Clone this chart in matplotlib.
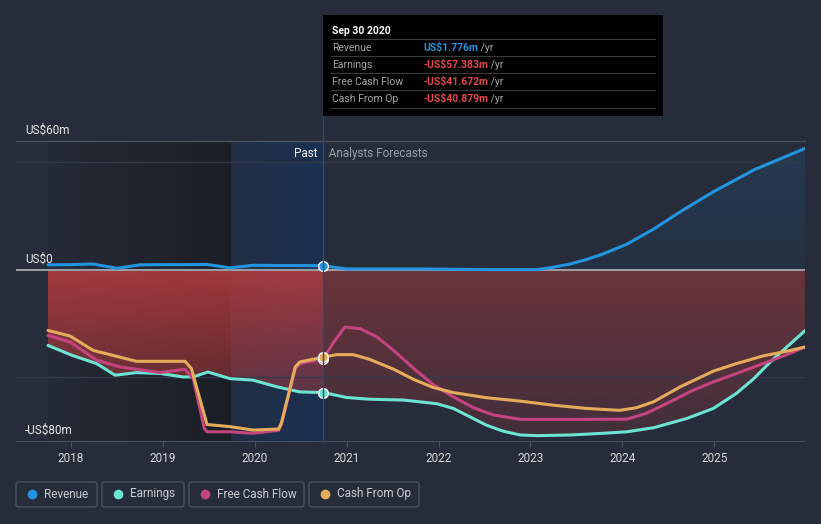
#!/usr/bin/env python3
""" revenue, earnings and cash flow history with analyst forecasts """
import numpy as np
import matplotlib.pyplot as plt
from matplotlib.patches import Rectangle, FancyBboxPatch, PathPatch
from matplotlib.lines import Line2D
from matplotlib.text import Annotation

plt.rcParams['font.family'] = ['Roboto', 'DejaVu Sans']

# values in US$m, x in fractional years
rev_x = [2017.75, 2017.99, 2018.24, 2018.50, 2018.75, 2018.97, 2019.24, 2019.48, 2019.73,
         2019.98, 2020.24, 2020.49, 2020.746, 2021.0, 2021.8, 2022.52, 2023.07, 2023.25,
         2023.43, 2023.61, 2023.79, 2024.05, 2024.34, 2024.63, 2024.99, 2025.43, 2025.99]
rev_y = [2.2, 2.3, 2.6, 0.6, 2.2, 2.3, 2.3, 2.4, 0.8,
         2.0, 1.9, 1.9, 1.776, 0.3, 0.3, 0.0, 0.0, 1.1,
         2.6, 4.7, 7.3, 11.9, 18.9, 27.0, 36.3, 46.5, 56.6]

earn_x = [2017.75, 2018.01, 2018.28, 2018.48, 2018.71, 2018.97, 2019.22, 2019.33, 2019.49,
          2019.73, 2019.98, 2020.24, 2020.49, 2020.746, 2021.0, 2021.25, 2021.62, 2021.98,
          2022.16, 2022.34, 2022.52, 2022.70, 2022.89, 2023.07, 2023.43, 2023.79, 2024.05,
          2024.34, 2024.70, 2024.99, 2025.24, 2025.43, 2025.61, 2025.79, 2025.99]
earn_y = [-35.4, -40.0, -43.9, -49.3, -48.1, -48.5, -50.1, -50.1, -47.8,
          -50.9, -51.6, -54.7, -57.1, -57.383, -59.7, -60.5, -60.9, -62.6,
          -64.8, -68.7, -72.6, -75.4, -77.2, -77.5, -77.2, -76.4, -75.7,
          -73.8, -69.5, -64.8, -57.8, -50.9, -43.1, -36.1, -28.4]

fcf_x = [2017.75, 2017.99, 2018.28, 2018.53, 2018.97, 2019.24, 2019.33, 2019.45, 2019.48,
         2019.73, 2019.98, 2020.26, 2020.29, 2020.44, 2020.49, 2020.746, 2020.86, 2020.98,
         2021.15, 2021.33, 2021.51, 2021.73, 2021.94, 2022.16, 2022.38, 2022.60, 2022.89,
         2023.25, 2023.61, 2024.05, 2024.26, 2024.52, 2024.77, 2024.99, 2025.24, 2025.53,
         2025.79, 2025.99]
fcf_y = [-30.7, -33.8, -42.3, -45.4, -48.1, -46.5, -50.9, -74.1, -75.7,
         -75.7, -76.4, -75.0, -72.3, -46.2, -43.9, -41.672, -33.8, -26.8,
         -27.6, -31.5, -37.7, -46.2, -53.6, -59.4, -64.5, -67.9, -69.9,
         -69.9, -69.9, -69.8, -67.1, -61.7, -56.3, -52.4, -48.5, -43.9,
         -39.7, -36.1]

cfo_x = [2017.75, 2017.99, 2018.24, 2018.71, 2019.24, 2019.31, 2019.48, 2019.73, 2019.98,
         2020.26, 2020.29, 2020.44, 2020.49, 2020.746, 2020.89, 2021.07, 2021.25, 2021.51,
         2021.73, 2021.94, 2022.16, 2022.52, 2022.89, 2023.25, 2023.61, 2023.97, 2024.15,
         2024.34, 2024.63, 2024.99, 2025.24, 2025.53, 2025.79, 2025.99]
cfo_y = [-28.4, -31.0, -37.7, -42.8, -42.8, -46.2, -72.3, -73.3, -74.9,
         -74.4, -71.5, -45.5, -43.1, -40.879, -39.7, -39.7, -41.9, -46.5,
         -51.3, -55.0, -57.4, -59.8, -61.4, -63.3, -64.8, -65.7, -64.5,
         -61.7, -54.7, -47.4, -43.9, -40.3, -38.1, -36.1]

now = 2020.746
years = [2018, 2019, 2020, 2021, 2022, 2023, 2024, 2025]
y_ticks = [60, 0, -80]
y_labels = ['US$60m', 'US$0', '-US$80m']

names = ['Revenue', 'Earnings', 'Free Cash Flow', 'Cash From Op']
colors = ['#2394df', '#6de4d2', '#c4447f', '#e5ad5b']
tip_values = ['US$1.776m', '-US$57.383m', '-US$41.672m', '-US$40.879m']

bg = '#262c39'
W, H = 821, 524
fig = plt.figure(figsize=(W / 100, H / 100), dpi=100, facecolor=bg)
ax = fig.add_axes([16 / W, (H - 441) / H, 789 / W, 300 / H], facecolor=bg)
x0, x1 = 2017.4015, 2025.987
ymin, ymax = -80, 60


def grad_image(rgb, a_top, a_bot, y_top=0, y_bot=-80, horizontal=False, n=200):
    t = np.linspace(0, 1, n)
    arr = np.zeros((n, n, 4))
    arr[..., :3] = np.array(rgb) / 255
    if horizontal:
        arr[..., 3] = (a_top + (a_bot - a_top) * t)[None, :]
    else:
        ys = np.linspace(ymax, ymin, n)
        a = np.interp(ys, [y_bot, y_top], [a_bot, a_top])
        arr[..., 3] = a[:, None]
    return arr


# past shading: darker history, bluish last year
ax.imshow(grad_image((22, 25, 31), 0.1, 0.7, horizontal=True),
          extent=[2017.75, 2019.74, ymin, ymax], aspect='auto', zorder=0.5)
ax.imshow(grad_image((24, 50, 88), 0.3, 0.85, horizontal=True),
          extent=[2019.74, now, ymin, ymax], aspect='auto', zorder=0.5)

# red fill between zero and earnings
ex = np.array(earn_x)
ey = np.array(earn_y)
for mask, a0, a1 in [(ex <= now, 0.85, 0.25), (ex >= now, 0.47, 0.18)]:
    poly = ax.fill_between(ex[mask], 0, ey[mask], facecolor='none', lw=0)
    patch = PathPatch(poly.get_paths()[0], facecolor='none', edgecolor='none')
    ax.add_patch(patch)
    im = ax.imshow(grad_image((185, 60, 62), a0, a1), extent=[x0, x1, ymin, ymax],
                   aspect='auto', zorder=1)
    im.set_clip_path(patch)

# blue fill under revenue
rx = np.array(rev_x)
ry = np.array(rev_y)
poly = ax.fill_between(rx, 0, ry, facecolor='none', lw=0)
patch = PathPatch(poly.get_paths()[0], facecolor='none', edgecolor='none')
ax.add_patch(patch)
im = ax.imshow(grad_image((33, 150, 243), 0.13, 0.05, y_top=60, y_bot=0),
               extent=[x0, x1, ymin, ymax], aspect='auto', zorder=1)
im.set_clip_path(patch)

# grid
for g in [50, -50]:
    ax.axhline(g, color='#323948', lw=1, zorder=1.5)
ax.axhline(60, color='#4a505c', lw=1, zorder=1.5, clip_on=False)
ax.axhline(0, color='#9a9ba3', lw=1.5, zorder=1.6)

# lines
series = [(rev_x, rev_y), (earn_x, earn_y), (fcf_x, fcf_y), (cfo_x, cfo_y)]
for (xs, ys), c in zip(series, colors):
    ax.plot(xs, ys, color=c, lw=2.2, zorder=3, solid_capstyle='round',
            solid_joinstyle='round')
for (xs, ys), c in zip(series, colors):
    ax.plot([now], [np.interp(now, xs, ys)], 'o', ms=7, color=c, mec='white',
            mew=1, zorder=4)

# y labels
for v, lab in zip(y_ticks, y_labels):
    ax.annotate(lab, xy=(x0, v), xytext=(9, 4), textcoords='offset pixels',
                ha='left', va='bottom', color='#e6e7ea', fontsize=8.5, zorder=5)

ax.text(now, 54, 'Past  ', ha='right', va='center', color='#f0f0f0', fontsize=8.5)
ax.text(now, 54, '  Analysts Forecasts', ha='left', va='center', color='#9aa0a8',
        fontsize=8.5)

ax.set_xlim(x0, x1)
ax.set_ylim(ymin, ymax)
ax.set_xticks(years)
ax.set_xticklabels([str(y) for y in years])
ax.set_yticks([])
for s in ['top', 'left', 'right']:
    ax.spines[s].set_visible(False)
ax.spines['bottom'].set_color('#4a505c')
ax.tick_params(axis='x', length=4, color='#4a505c', labelcolor='#d5d8dc',
               labelsize=8.5, pad=4)

# divider line
fig.add_artist(Line2D([323 / W, 323 / W], [1 - 116 / H, 1 - 441 / H],
                      color='#2d4a70', lw=1, zorder=2))

# tooltip
fig.add_artist(Rectangle((323 / W, 1 - 116 / H), 340 / W, 101 / H,
                         facecolor='black', edgecolor='none', zorder=6))
fig.text(332 / W, 1 - 31 / H, 'Sep 30 2020', color='white', fontsize=7.5,
         fontweight='bold', va='center', zorder=7)
for i, (name, val, c) in enumerate(zip(names, tip_values, colors)):
    yr = 48 + i * 17
    fig.add_artist(Line2D([331 / W, 655 / W], [1 - (yr - 9) / H] * 2,
                          color='#3a3a3a', lw=0.8, zorder=7))
    fig.text(332 / W, 1 - yr / H, name, color='#a6a6a6', fontsize=7.5,
             va='center', zorder=7)
    vc = '#2394df' if i == 0 else '#e5484d'
    t = fig.text(423 / W, 1 - yr / H, val, color=vc, fontsize=7.5,
                 fontweight='bold', va='center', zorder=7)
    fig.add_artist(Annotation(' /yr', xy=(1, 0.5), xycoords=t, va='center',
                              ha='left', color='#a6a6a6', fontsize=7.5,
                              annotation_clip=False, zorder=7))
fig.add_artist(Line2D([331 / W, 655 / W], [1 - 108 / H] * 2,
                      color='#3a3a3a', lw=0.8, zorder=7))

# legend
boxes = [(16, 97), (102, 184), (189, 304), (309, 419)]
for (bx0, bx1), name, c in zip(boxes, names, colors):
    fig.add_artist(FancyBboxPatch((bx0 / W, 1 - 507 / H), (bx1 - bx0) / W, 25 / H,
                                  boxstyle='round,pad=0,rounding_size=0.004',
                                  facecolor='none', edgecolor='#4a505c', lw=1))
    fig.add_artist(Line2D([(bx0 + 16) / W], [1 - 494 / H], marker='o', ms=6,
                          color=c, lw=0))
    fig.text((bx0 + 28) / W, 1 - 494 / H, name, color='#c8ccd2', fontsize=8.5,
             va='center')

fig.savefig('out.png', dpi=100, facecolor=bg)
